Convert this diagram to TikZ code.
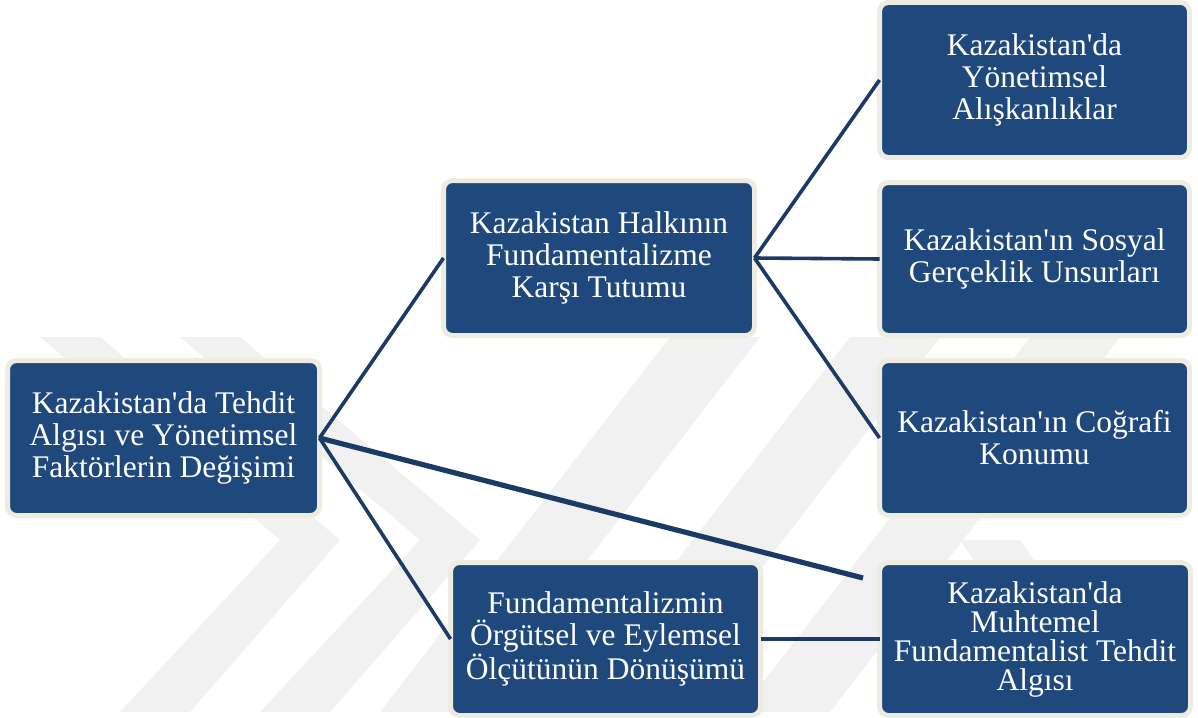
\documentclass[tikz,border=0pt]{standalone}
\usepackage{fontspec}
\setmainfont{Liberation Serif}
\newcommand{\ap}{\textquotesingle}
\definecolor{boxblue}{HTML}{1F497D}
\definecolor{boxrim}{HTML}{EEECE1}
\definecolor{linkcol}{HTML}{1C3A66}
\definecolor{wmark}{HTML}{F1F1F1}
\tikzset{
  stepbox/.style={rectangle, rounded corners=9pt, fill=boxblue, draw=boxrim, line width=5pt,
    text=white, align=center, inner sep=0pt, outer sep=0pt,
    font=\fontsize{31.5}{32}\selectfont},
  link/.style={draw=linkcol, line width=3.6pt},
  thicklink/.style={draw=linkcol, line width=5.2pt},
  wm/.style={fill=wmark}
}
\begin{document}
\begin{tikzpicture}[x=1pt,y=-1pt]
\useasboundingbox (0,0) rectangle (1198,717);
% faint watermark
\begin{scope}
\clip (0,337) rectangle (1198,712);
\fill[wm] (40,337) -- (100,337) -- (340,540) -- (190,712) -- (120,712) -- (280,540) -- cycle;
\fill[wm] (180,337) -- (240,337) -- (480,540) -- (330,712) -- (260,712) -- (420,540) -- cycle;
\fill[wm] (380,712) -- (470,712) -- (760,337) -- (670,337) -- cycle;
\fill[wm] (560,712) -- (650,712) -- (940,337) -- (850,337) -- cycle;
\fill[wm] (740,712) -- (830,712) -- (1120,337) -- (1030,337) -- cycle;
\fill[wm] (960,540) -- (1020,540) -- (1140,712) -- (1080,712) -- cycle;
\end{scope}
% nodes
\node[stepbox, minimum width=312, minimum height=155] (root) at (163.5,438)
  {Kazakistan\ap da Tehdit\\Algısı ve Yönetimsel\\Faktörlerin Değişimi};
\node[stepbox, minimum width=311, minimum height=155] (halk) at (599,258)
  {Kazakistan Halkının\\Fundamentalizme\\Karşı Tutumu};
\node[stepbox, minimum width=310, minimum height=155] (aliskan) at (1034.5,80)
  {Kazakistan\ap da\\Yönetimsel\\Alışkanlıklar};
\node[stepbox, minimum width=310, minimum height=153] (sosyal) at (1034.5,259)
  {Kazakistan\ap ın Sosyal\\Gerçeklik Unsurları};
\node[stepbox, minimum width=310, minimum height=155] (cografi) at (1034.5,438)
  {Kazakistan\ap ın Coğrafi\\Konumu};
\node[stepbox, minimum width=310, minimum height=153] (orgut) at (605.5,639)
  {Fundamentalizmin\\Örgütsel ve Eylemsel\\Ölçütünün Dönüşümü};
\node[stepbox, minimum width=311, minimum height=153, font=\fontsize{31.5}{29}\selectfont] (tehdit) at (1035,639)
  {Kazakistan\ap da\\Muhtemel\\Fundamentalist Tehdit\\Algısı};
\coordinate (tehditend) at (863,578);
% connectors
\draw[link] (root.east) -- (halk.west);
\draw[link] (root.east) -- (orgut.west);
\draw[thicklink] (root.east) -- (tehditend);
\draw[link] (halk.east) -- (aliskan.west);
\draw[link] (halk.east) -- (sosyal.west);
\draw[link] (halk.east) -- (cografi.west);
\draw[link] (orgut.east) -- (tehdit.west);
\end{tikzpicture}
\end{document}
